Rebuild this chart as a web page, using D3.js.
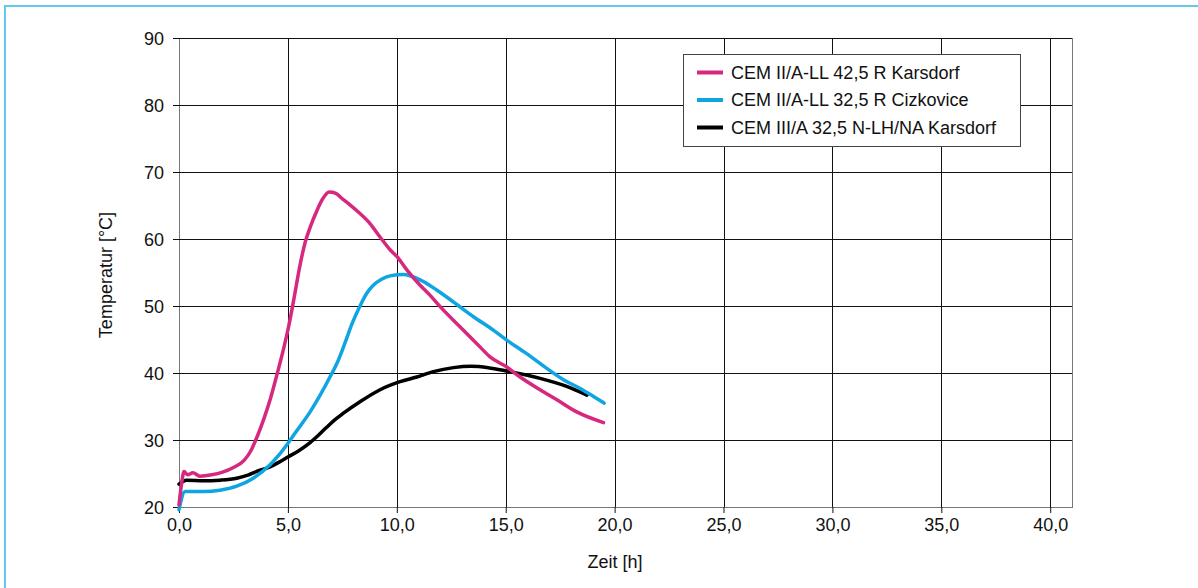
<!DOCTYPE html>
<html>
<head>
<meta charset="utf-8">
<script src="https://cdn.jsdelivr.net/npm/d3@7"></script>
<style>
  body { margin: 0; background: #fff; }
  svg { display: block; font-family: "Liberation Sans", Arial, sans-serif; }
</style>
</head>
<body>
<svg id="chart" width="1198" height="588"></svg>
<script>
// values (time in h, temperature in degC)
var seriesNames = ['CEM II/A-LL 42,5 R Karsdorf', 'CEM II/A-LL 32,5 R Cizkovice', 'CEM III/A 32,5 N-LH/NA Karsdorf'];
var seriesColors = ['#d6287f', '#0ea5e2', '#000000'];

var karsdorf42 = [
  [0, 20.3], [0.12, 23.5], [0.23, 25.3], [0.4, 24.8], [0.64, 25.1], [0.96, 24.6], [1.5, 24.8],
  [2.0, 25.2], [2.5, 25.9], [3.0, 27.0], [3.3, 28.4], [3.6, 30.6], [3.9, 33.2], [4.2, 36.2],
  [4.5, 39.8], [4.8, 43.6], [5.05, 47.2], [5.3, 51.5], [5.55, 56.0], [5.8, 59.6], [6.05, 62.0],
  [6.3, 64.0], [6.6, 66.0], [6.9, 67.0], [7.2, 66.8], [7.5, 66.0], [7.85, 65.1], [8.31, 63.8],
  [8.77, 62.3], [9.23, 60.3], [9.69, 58.4], [10.0, 57.4], [10.46, 55.4], [11.07, 53.1],
  [11.5, 51.7], [11.99, 49.9], [12.9, 46.9], [13.82, 43.9], [14.28, 42.4], [15.05, 40.9],
  [15.66, 39.4], [16.58, 37.5], [17.35, 36.0], [18.26, 34.2], [19.49, 32.6]
];

var cizkovice32 = [
  [0, 19.6], [0.28, 22.3], [1.12, 22.3], [1.88, 22.5], [2.65, 23.1], [3.41, 24.3], [4.18, 26.3],
  [4.6, 27.8], [5.02, 29.6], [5.5, 31.8], [6.02, 34.2], [6.5, 36.8], [6.93, 39.4], [7.3, 41.8],
  [7.6, 44.3], [7.95, 47.4], [8.31, 50.0], [8.62, 51.9], [8.92, 53.1], [9.3, 54.0], [9.69, 54.5],
  [10.3, 54.7], [11.07, 53.9], [11.83, 52.4], [12.6, 50.6], [13.52, 48.4], [14.43, 46.4],
  [15.05, 44.9], [15.96, 42.9], [16.88, 40.7], [17.65, 39.0], [18.42, 37.7], [19.03, 36.5],
  [19.52, 35.5]
];

var karsdorf32 = [
  [0, 23.4], [0.35, 24.0], [1.12, 23.9], [1.88, 24.0], [2.65, 24.3], [3.2, 24.8], [3.57, 25.3],
  [4.18, 26.0], [4.6, 26.7], [5.02, 27.5], [5.5, 28.4], [6.02, 29.6], [6.4, 30.7], [6.78, 31.9],
  [7.15, 33.0], [7.55, 34.0], [8.31, 35.7], [9.23, 37.5], [10.15, 38.7], [10.92, 39.4],
  [11.68, 40.2], [12.6, 40.8], [13.4, 41.0], [14.2, 40.8], [15.05, 40.3], [16.58, 39.2],
  [17.8, 38.0], [18.73, 36.7]
];

var xTicks = [0, 5, 10, 15, 20, 25, 30, 35, 40];
var yTicks = [20, 30, 40, 50, 60, 70, 80, 90];

var svg = d3.select('#chart');
var mLeft = 179, mTop = 38, mRight = 1072, mBottom = 507;

var x = d3.scaleLinear().domain([0, 41]).range([mLeft, mRight]);
var y = d3.scaleLinear().domain([20, 90]).range([mBottom, mTop]);

// outer light-blue frame (only top/left visible)
svg.append('rect')
  .attr('x', 5).attr('y', 6).attr('width', 1300).attr('height', 700)
  .attr('fill', 'none').attr('stroke', '#62c9f0').attr('stroke-width', 2);

// plot frame
svg.append('rect')
  .attr('x', mLeft + 0.5).attr('y', mTop + 0.5)
  .attr('width', mRight - mLeft).attr('height', mBottom - mTop)
  .attr('fill', '#fff').attr('stroke', '#777').attr('stroke-width', 1);

// gridlines
svg.append('g').selectAll('line').data(xTicks.filter(d => d > 0)).join('line')
  .attr('x1', d => Math.round(x(d)) + 0.5).attr('x2', d => Math.round(x(d)) + 0.5)
  .attr('y1', mTop).attr('y2', mBottom)
  .attr('stroke', '#111').attr('stroke-width', 1);
svg.append('g').selectAll('line').data(yTicks.filter(d => d > 20)).join('line')
  .attr('x1', mLeft).attr('x2', mRight)
  .attr('y1', d => Math.round(y(d)) + 0.5).attr('y2', d => Math.round(y(d)) + 0.5)
  .attr('stroke', '#111').attr('stroke-width', 1);

// axes
var xAxis = d3.axisBottom(x).tickValues(xTicks).tickSize(6).tickPadding(5)
  .tickFormat(d => d3.format('.1f')(d).replace('.', ','));
var yAxis = d3.axisLeft(y).tickValues(yTicks).tickSize(6).tickPadding(9);

var gx = svg.append('g').attr('transform', 'translate(0,' + mBottom + ')').call(xAxis);
var gy = svg.append('g').attr('transform', 'translate(' + mLeft + ',0)').call(yAxis);
[gx, gy].forEach(g => {
  g.select('.domain').remove();
  g.selectAll('line').attr('stroke', '#111');
  g.selectAll('text').attr('font-size', 18).attr('fill', '#111')
    .attr('font-family', '"Liberation Sans", Arial, sans-serif');
});
gy.selectAll('text').attr('dy', '0.36em');

// axis titles
svg.append('text').attr('x', 615).attr('y', 568).attr('text-anchor', 'middle')
  .attr('font-size', 18).attr('fill', '#111').text('Zeit [h]');
svg.append('text').attr('transform', 'translate(112,275) rotate(-90)').attr('text-anchor', 'middle')
  .attr('font-size', 18).attr('fill', '#111').text('Temperatur [°C]');

// curves
var line = d3.line().x(d => x(d[0])).y(d => y(d[1])).curve(d3.curveMonotoneX);
var allSeries = [karsdorf42, cizkovice32, karsdorf32];
// black first, then blue, pink on top
[2, 1, 0].forEach(i => {
  svg.append('path').datum(allSeries[i])
    .attr('d', line)
    .attr('fill', 'none')
    .attr('stroke', seriesColors[i])
    .attr('stroke-width', 3.5)
    .attr('stroke-linejoin', 'round')
    .attr('stroke-linecap', 'round');
});

// legend
var lg = svg.append('g');
lg.append('rect').attr('x', 683.5).attr('y', 54.5).attr('width', 337).attr('height', 92)
  .attr('fill', '#fff').attr('stroke', '#444').attr('stroke-width', 1);
seriesNames.forEach((name, i) => {
  var yy = 72.5 + i * 27.5;
  lg.append('line').attr('x1', 697).attr('x2', 723).attr('y1', yy).attr('y2', yy)
    .attr('stroke', seriesColors[i]).attr('stroke-width', 4);
  lg.append('text').attr('x', 731).attr('y', yy).attr('dy', '0.36em')
    .attr('font-size', 18).attr('fill', '#111').text(name);
});
</script>
</body>
</html>
